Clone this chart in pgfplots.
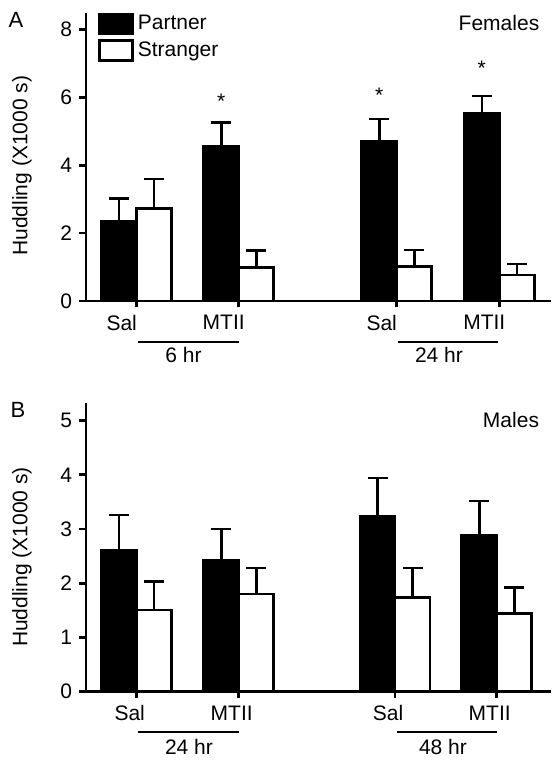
\documentclass[border=0pt]{standalone}
\usepackage{fontspec}
\setmainfont{Liberation Sans}
\usepackage{pgfplots}
\pgfplotsset{compat=1.18}
\pgfplotsset{
  boxlegend/.style={legend image code/.code={\draw[##1,/tikz/.cd,line width=1.2pt] (0pt,-5pt) rectangle (16.5pt,5pt);}},
  panel/.style={
    scale only axis, width=232.35pt,
    axis lines*=left, ymin=0, xmin=0.86, xmax=5.507,
    axis line style={line width=1.4pt, black},
    tick align=outside, major tick length=3.25pt,
    tick style={line width=1.4pt, black},
    every tick label/.append style={font=\fontsize{10.5}{12.6}\selectfont},
    /pgf/number format/assume math mode=true,
    xticklabels={Sal,MTII,Sal,MTII},
    ybar=0pt, bar width=0.35,
    clip=false,
    ylabel={Huddling (X1000 s)},
    ylabel style={anchor=center, font=\fontsize{10.5}{12.6}\selectfont},
    every axis plot post/.append style={boxlegend},
  },
  partner/.style={fill=black, draw=black, line width=1.3pt, bar shift=-0.175,
    error bars/.cd, y dir=plus, y explicit, error mark=|,
    error bar style={line width=1.3pt, black},
    error mark options={line width=1.3pt, mark size=5pt, black}},
  stranger/.style={fill=white, draw=black, line width=1.3pt, bar shift=0.175,
    error bars/.cd, y dir=plus, y explicit, error mark=|,
    error bar style={line width=1.3pt, black},
    error mark options={line width=1.3pt, mark size=5pt, black}},
}
\begin{document}
\fontsize{10.5}{12.6}\selectfont
\begin{tikzpicture}
\path[use as bounding box] (0,0) rectangle (279.5pt,380.5pt);
\node[font=\fontsize{11}{13}\selectfont] at (8pt,370.5pt) {A};
\node[font=\fontsize{11}{13}\selectfont] at (9pt,175.5pt) {B};
% Panel A
\begin{axis}[panel, at={(43pt,230pt)}, anchor=south west, height=143.85pt,
  ymax=8.47, ytick={0,2,4,6,8},
  xtick={1.367,2.387,3.967,4.993}, xticklabel style={xshift=-7.5pt},
  ylabel style={at={(axis description cs:-0.1377,0.47)}},
  legend style={at={(axis description cs:0.013,1.022)}, anchor=north west,
    draw=none, fill=none, font=\fontsize{10.5}{12.6}\selectfont, row sep=0.25pt,
    cells={anchor=west}},
]
\addplot[partner] coordinates {(1.367,2.35) +- (0,0.67) (2.387,4.54) +- (0,0.71) (3.967,4.69) +- (0,0.67) (4.993,5.53) +- (0,0.51)};
\addlegendentry{Partner}
\addplot[stranger] coordinates {(1.367,2.73) +- (0,0.86) (2.387,0.99) +- (0,0.49) (3.967,1.01) +- (0,0.49) (4.993,0.77) +- (0,0.32)};
\addlegendentry{Stranger}
\node at (axis cs:2.212,5.89) {*};
\node at (axis cs:3.792,6.05) {*};
\node at (axis cs:4.818,6.84) {*};
\draw[line width=1pt] (axis cs:1.38,-1.198) -- (axis cs:2.39,-1.198);
\node at (axis cs:1.835,-1.59) {6 hr};
\draw[line width=1pt] (axis cs:3.98,-1.198) -- (axis cs:4.983,-1.198);
\node at (axis cs:4.39,-1.59) {24 hr};
\node at (axis cs:4.99,8.19) {Females};
\end{axis}
% Panel B
\begin{axis}[panel, at={(43pt,34.65pt)}, anchor=south west, height=144.2pt,
  ymax=5.32, ytick={0,1,2,3,4,5},
  xtick={1.367,2.387,3.95,4.967}, xticklabel style={xshift=-3.5pt},
  ylabel style={at={(axis description cs:-0.1377,0.467)}},
]
\addplot[partner] coordinates {(1.367,2.61) +- (0,0.65) (2.387,2.43) +- (0,0.57) (3.95,3.23) +- (0,0.71) (4.967,2.89) +- (0,0.63)};
\addplot[stranger] coordinates {(1.367,1.51) +- (0,0.52) (2.387,1.80) +- (0,0.48) (3.95,1.74) +- (0,0.54) (4.967,1.44) +- (0,0.48)};
\draw[line width=1pt] (axis cs:1.38,-0.738) -- (axis cs:2.39,-0.738);
\node at (axis cs:1.89,-1.015) {24 hr};
\draw[line width=1pt] (axis cs:3.97,-0.738) -- (axis cs:4.97,-0.738);
\node at (axis cs:4.43,-1.015) {48 hr};
\node at (axis cs:5.11,5.01) {Males};
\end{axis}
\end{tikzpicture}
\end{document}
